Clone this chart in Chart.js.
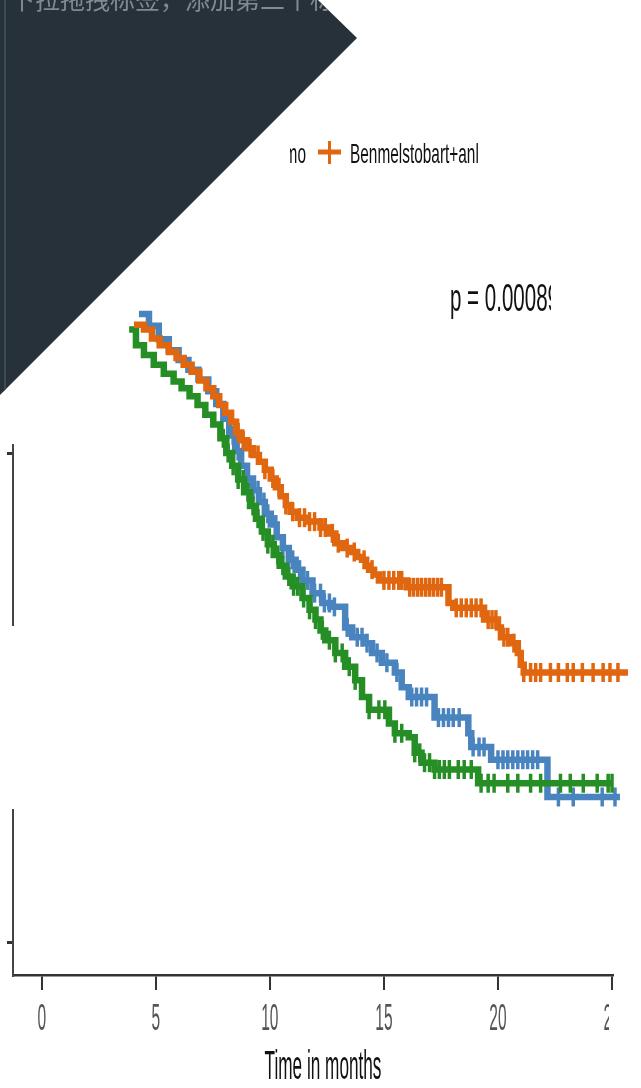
<!DOCTYPE html>
<html>
<head>
<meta charset="utf-8">
<script src="https://cdn.jsdelivr.net/npm/chart.js@4.4.1/dist/chart.umd.min.js"></script>
<style>
  html, body { margin: 0; padding: 0; background: #ffffff; }
  canvas { display: block; }
</style>
</head>
<body>
<canvas id="km" width="641" height="1088"></canvas>
<script>
// Kaplan–Meier step curves: event times (months) and survival after each step
const orangeTimes = [4.04,4.48,4.83,5.17,5.57,5.91,6.22,6.57,6.91,7.22,7.52,7.78,8.04,8.30,8.52,8.74,9.00,9.26,9.52,9.78,10.04,10.26,10.48,10.70,10.91,11.22,11.65,12.22,12.57,12.87,13.22,13.61,13.83,14.04,14.22,14.35,14.57,14.78,16.00,17.83,18.04,19.39,20.00,20.13,20.57,20.87,21.00,21.13,25.70];
const orangeSurv  = [0.631,0.626,0.617,0.610,0.603,0.597,0.590,0.583,0.574,0.566,0.558,0.549,0.541,0.532,0.521,0.513,0.505,0.498,0.491,0.483,0.474,0.465,0.456,0.447,0.440,0.434,0.430,0.424,0.418,0.408,0.403,0.399,0.394,0.391,0.385,0.381,0.376,0.370,0.363,0.347,0.342,0.330,0.322,0.312,0.306,0.296,0.284,0.276,0.276];
const orangeCensor = [4.26,4.40,4.57,4.70,4.91,5.04,5.26,5.40,5.57,5.74,5.87,6.04,6.22,6.40,6.57,6.74,6.87,7.04,7.30,7.52,7.74,7.96,8.17,8.40,8.61,8.83,9.13,9.48,9.78,10.13,10.40,10.70,11.00,11.30,11.52,11.74,11.96,12.22,12.43,12.74,13.00,13.39,13.70,14.13,14.48,15.00,15.22,15.43,15.65,15.78,16.13,16.30,16.48,16.65,16.83,17.00,17.17,17.35,17.52,18.17,18.39,18.61,18.83,19.04,19.26,19.57,19.74,19.91,20.26,20.43,20.70,21.13,21.43,21.65,21.87,22.30,22.65,23.04,23.30,23.70,24.17,24.61,24.91,25.26,25.57];

const blueTimes = [4.26,4.70,5.13,5.57,6.00,6.43,6.87,7.30,7.65,7.96,8.22,8.48,8.74,9.00,9.26,9.52,9.78,10.04,10.30,10.57,10.83,11.13,11.43,11.87,12.30,12.65,13.30,13.61,14.17,14.48,14.91,15.48,15.78,16.09,17.22,18.70,18.83,19.70,22.17,25.35];
const blueSurv  = [0.642,0.630,0.616,0.605,0.595,0.585,0.575,0.563,0.550,0.535,0.518,0.502,0.487,0.474,0.462,0.450,0.438,0.427,0.414,0.403,0.391,0.381,0.370,0.357,0.347,0.343,0.322,0.312,0.306,0.296,0.286,0.276,0.261,0.251,0.230,0.214,0.200,0.187,0.149,0.149];
const blueCensor = [4.48,4.91,5.35,5.78,6.22,6.65,7.09,7.52,7.96,8.39,8.61,9.04,9.26,9.48,9.74,9.91,10.26,10.57,10.83,11.00,11.30,11.65,11.96,12.22,12.39,12.61,12.83,13.39,13.83,14.04,14.26,14.70,15.13,15.57,16.22,16.43,16.65,16.87,17.39,17.61,17.83,18.04,18.30,18.91,19.17,19.39,20.00,20.22,20.43,20.65,20.87,21.09,21.30,21.52,21.74,22.65,23.30,24.57,25.13];

const greenTimes = [3.83,4.13,4.48,4.91,5.35,5.78,6.13,6.48,6.83,7.17,7.52,7.83,8.09,8.35,8.61,8.87,9.13,9.39,9.65,9.91,10.17,10.43,10.70,11.00,11.43,11.74,12.00,12.22,12.43,12.87,13.30,13.74,14.04,14.35,15.22,15.48,16.09,16.35,16.65,17.22,19.13,25.04];
const greenSurv  = [0.626,0.610,0.600,0.590,0.581,0.573,0.566,0.558,0.549,0.539,0.529,0.515,0.500,0.487,0.473,0.460,0.446,0.433,0.420,0.407,0.396,0.385,0.374,0.364,0.352,0.340,0.330,0.319,0.309,0.296,0.282,0.268,0.251,0.238,0.224,0.214,0.210,0.194,0.184,0.177,0.163,0.163];
const greenCensor = [3.96,4.17,4.39,4.61,4.83,5.04,5.26,5.57,5.78,6.00,6.22,6.43,6.65,6.87,7.09,7.30,7.52,7.74,7.96,8.17,8.39,8.61,8.83,9.04,9.26,9.48,9.70,9.91,10.13,10.35,10.57,10.83,11.04,11.22,11.48,11.74,12.00,12.30,12.61,12.87,13.17,13.48,13.74,14.35,14.78,15.04,15.48,15.78,16.35,16.57,16.78,17.00,17.22,17.43,17.65,17.87,18.26,18.52,18.83,19.26,19.57,19.83,20.43,20.87,21.43,21.87,22.74,23.17,23.74,24.35,24.83,25.00];

const xTickValues = [0, 5, 10, 15, 20, 25];
const xTickLabels = ['0', '5', '10', '15', '20', '25'];
const yTickValues = [0, 0.5];
const xTitle = 'Time in months';
const legendLabel = 'Benmelstobart+anlotinib';
const legendPrevTail = 'chemo';
const pText = 'p = 0.00089';
const bannerText = '下拉拖拽标签，添加第二个标签';

const COLORS = { orange: '#E0660F', blue: '#4A84BF', green: '#258E25' };

function stepPoints(times, surv) {
  return times.map((t, i) => ({ x: t, y: surv[i] }));
}
// survival level in force at time t (last step at or before t)
function levelAt(times, surv, t) {
  let v = surv[0];
  for (let i = 0; i < times.length; i++) { if (times[i] <= t + 1e-9) v = surv[i]; else break; }
  return v;
}
function censorPoints(cens, times, surv) {
  return cens.map(t => ({ x: t, y: levelAt(times, surv, t) }));
}

function curve(label, times, surv, color) {
  return {
    label, data: stepPoints(times, surv), borderColor: color, backgroundColor: color,
    borderWidth: 6.5, stepped: 'before', pointRadius: 0, fill: false, clip: false,
    borderJoinStyle: 'miter', borderCapStyle: 'butt'
  };
}
function marks(label, cens, times, surv, color) {
  return {
    label, data: censorPoints(cens, times, surv), showLine: false, borderColor: color,
    backgroundColor: color, pointStyle: 'line', rotation: 90, pointRadius: 9.5,
    pointBorderWidth: 3.5, clip: false
  };
}

function squish(ctx, text, x, y, size, sx, align, color) {
  ctx.save();
  ctx.translate(x, y);
  ctx.scale(sx, 1);
  ctx.font = size + 'px "Liberation Sans", Arial, sans-serif';
  ctx.textAlign = align;
  ctx.textBaseline = 'alphabetic';
  ctx.fillStyle = color;
  ctx.fillText(text, 0, 0);
  ctx.restore();
}

const decorations = {
  id: 'decorations',
  afterDraw(chart) {
    const ctx = chart.ctx;
    const xs = chart.scales.x;

    // break in the vertical axis line
    ctx.save();
    ctx.fillStyle = '#ffffff';
    ctx.fillRect(2, 626, 12, 183);
    ctx.restore();

    // x tick labels
    ctx.save();
    ctx.beginPath(); ctx.rect(0, 990, 609, 60); ctx.clip();
    xs.ticks.forEach(tk => {
      const idx = xTickValues.indexOf(tk.value);
      if (idx < 0) return;
      squish(ctx, xTickLabels[idx], xs.getPixelForValue(tk.value), 1030, 37, 0.42, 'center', '#555555');
    });
    ctx.restore();

    // axis title
    squish(ctx, xTitle, 323, 1079, 40, 0.43, 'center', '#111111');

    // p-value
    ctx.save();
    ctx.beginPath(); ctx.rect(400, 260, 151, 70); ctx.clip();
    squish(ctx, pText, 450, 311, 38, 0.54, 'left', '#111111');
    ctx.restore();

    // legend
    ctx.save();
    ctx.beginPath(); ctx.rect(290, 130, 27, 45); ctx.clip();
    squish(ctx, legendPrevTail, 306, 163, 28, 0.55, 'right', '#111111');
    ctx.restore();
    ctx.save();
    ctx.strokeStyle = COLORS.orange;
    ctx.lineWidth = 5;
    ctx.beginPath(); ctx.moveTo(318, 152); ctx.lineTo(341, 152); ctx.stroke();
    ctx.lineWidth = 3;
    ctx.beginPath(); ctx.moveTo(329.5, 141); ctx.lineTo(329.5, 164); ctx.stroke();
    ctx.restore();
    ctx.save();
    ctx.beginPath(); ctx.rect(345, 130, 133, 45); ctx.clip();
    squish(ctx, legendLabel, 350, 163, 28, 0.55, 'left', '#111111');
    ctx.restore();

    // dark banner in the top-left corner, with its caption clipped to it
    ctx.save();
    ctx.fillStyle = '#263139';
    ctx.beginPath();
    ctx.moveTo(0, 0); ctx.lineTo(318, 0); ctx.lineTo(357, 38); ctx.lineTo(0, 395);
    ctx.closePath(); ctx.fill();
    ctx.clip();
    ctx.strokeStyle = '#3c4a53';
    ctx.lineWidth = 2;
    ctx.beginPath(); ctx.moveTo(5, 0); ctx.lineTo(5, 395); ctx.stroke();
    ctx.font = '25px "Noto Sans CJK SC", sans-serif';
    ctx.fillStyle = '#7f8a92';
    ctx.textBaseline = 'alphabetic';
    ctx.textAlign = 'left';
    ctx.fillText(bannerText, 10, 9);
    ctx.restore();
  }
};

const chart = new Chart(document.getElementById('km'), {
  type: 'line',
  data: {
    datasets: [
      curve('Benmelstobart+anlotinib', orangeTimes, orangeSurv, COLORS.orange),
      marks('orange censored', orangeCensor, orangeTimes, orangeSurv, COLORS.orange),
      curve('green', greenTimes, greenSurv, COLORS.green),
      marks('green censored', greenCensor, greenTimes, greenSurv, COLORS.green),
      curve('blue', blueTimes, blueSurv, COLORS.blue),
      marks('blue censored', blueCensor, blueTimes, blueSurv, COLORS.blue)
    ]
  },
  options: {
    responsive: false,
    devicePixelRatio: 1,
    animation: false,
    events: [],
    layout: { padding: { left: 0, top: 445, right: 28, bottom: 0 } },
    plugins: { legend: { display: false }, tooltip: { enabled: false }, title: { display: false } },
    scales: {
      x: {
        type: 'linear',
        min: -1.261,
        max: 25.043,
        afterFit(scale) { scale.height = 113; },
        afterBuildTicks(scale) { scale.ticks = xTickValues.map(v => ({ value: v })); },
        ticks: { display: false },
        grid: { display: true, drawOnChartArea: false, drawTicks: true, tickLength: 15, color: '#333333', lineWidth: 2 },
        border: { display: true, color: '#333333', width: 2.5 }
      },
      y: {
        type: 'linear',
        min: -0.0327,
        max: 0.5082,
        afterFit(scale) { scale.width = 8; },
        afterBuildTicks(scale) { scale.ticks = yTickValues.map(v => ({ value: v })); },
        ticks: { display: false },
        grid: { display: true, drawOnChartArea: false, drawTicks: true, tickLength: 6, color: '#333333', lineWidth: 3 },
        border: { display: true, color: '#444444', width: 2 }
      }
    }
  },
  plugins: [decorations]
});
</script>
</body>
</html>
